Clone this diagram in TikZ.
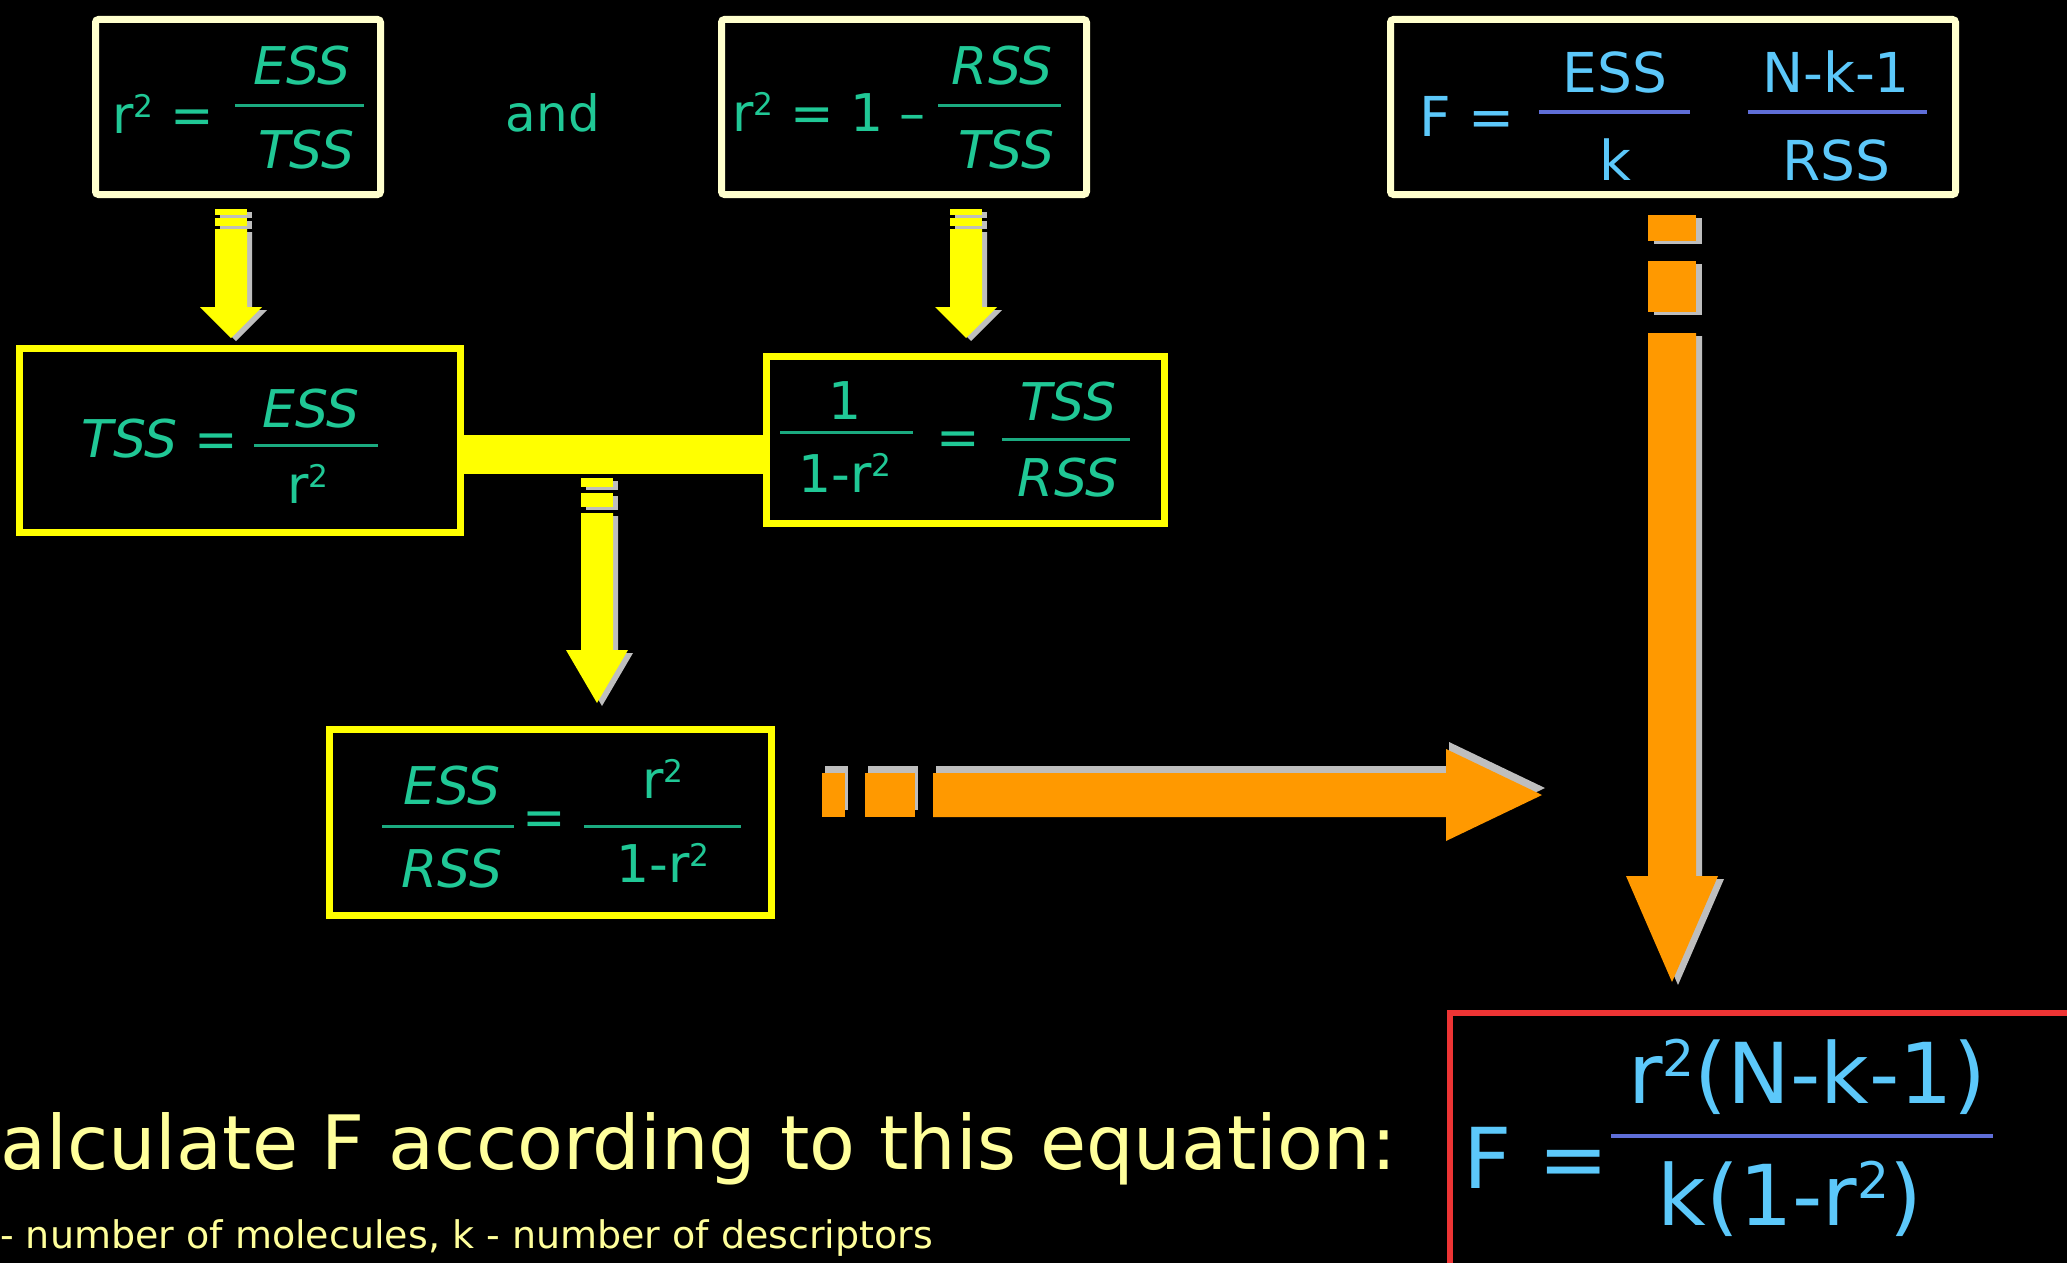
\documentclass[tikz,border=0pt]{standalone}
\usepackage{graphicx}
\usepackage{fontspec}
\setmainfont{DejaVu Sans}
\usetikzlibrary{positioning}

\definecolor{eqgreen}{RGB}{32,200,150}
\definecolor{eqblue}{RGB}{92,200,250}
\definecolor{barblue}{RGB}{95,110,215}
\definecolor{boxcream}{RGB}{255,255,205}
\definecolor{arrowyellow}{RGB}{255,255,0}
\definecolor{arroworange}{RGB}{255,153,0}
\definecolor{boxred}{RGB}{238,52,52}
\definecolor{textyellow}{RGB}{255,255,155}
\definecolor{shadowgray}{RGB}{190,190,190}

% squared exponent
\newcommand{\sq}{\raisebox{0.32em}{\scalebox{0.6}{2}}}

\tikzset{
  creambox/.style={draw=boxcream, line width=7pt, rounded corners=3pt, inner sep=0pt},
  yellowbox/.style={draw=arrowyellow, line width=7pt, inner sep=0pt},
  redbox/.style={draw=boxred, line width=6pt, inner sep=0pt},
  greeneq/.style={text=eqgreen, inner sep=0pt, font=\fontsize{52}{56}\selectfont},
  greenit/.style={text=eqgreen, inner sep=0pt, font=\fontsize{52}{56}\selectfont\itshape},
  blueeq/.style={text=eqblue, inner sep=0pt, font=\fontsize{55}{60}\selectfont},
  bigeq/.style={text=eqblue, inner sep=0pt, font=\fontsize{84}{90}\selectfont},
  greenbar/.style={draw=eqgreen!85!black, line width=3pt},
  bluebar/.style={draw=barblue, line width=4pt},
}

\begin{document}
\begin{tikzpicture}[x=1pt, y=-1pt]
    % Background
    \path[use as bounding box, fill=black] (0,0) rectangle (2067,1263);
    \clip (0,0) rectangle (2067,1263);

    % Top row boxes
    \node[creambox, minimum width=285pt, minimum height=175pt] (b1) at (238,107) {};
    \node[creambox, minimum width=365pt, minimum height=175pt] (b2) at (904,107) {};
    \node[creambox, minimum width=565pt, minimum height=175pt] (b3) at (1673,107) {};

    % r^2 = ESS/TSS
    \node[greeneq] (l1) at (163,114) {r\sq{} =};
    \node[greenit] (n1) at (302,66) {ESS};
    \node[greenit] (d1) at (306,150) {TSS};
    \draw[greenbar] (235,105) -- (364,105);

    \node[text=eqgreen, inner sep=0pt, font=\fontsize{50}{56}\selectfont] (and) at (553,113) {and};

    % r^2 = 1 - RSS/TSS
    \node[greeneq] (l2) at (829,112) {r\sq{} = 1 \textendash};
    \node[greenit] (n2) at (1002,66) {RSS};
    \node[greenit] (d2) at (1006,150) {TSS};
    \draw[greenbar] (938,105) -- (1061,105);

    % F = ESS/k * (N-k-1)/RSS
    \node[blueeq] (l3) at (1467,116) {F =};
    \node[blueeq] (n3a) at (1615,72) {ESS};
    \node[blueeq] (d3a) at (1615,160) {k};
    \draw[bluebar] (1539,112) -- (1690,112);
    \node[blueeq] (n3b) at (1836,72) {N-k-1};
    \node[blueeq] (d3b) at (1836,160) {RSS};
    \draw[bluebar] (1748,112) -- (1927,112);

    % Middle row boxes
    \node[yellowbox, minimum width=441pt, minimum height=184pt] (b4) at (240,440.5) {};
    \node[yellowbox, minimum width=398pt, minimum height=167pt] (b5) at (965.5,440) {};

    % TSS = ESS/r^2
    \node[greeneq] (l4) at (160,439) {\itshape TSS\upshape{} =};
    \node[greenit] (n4) at (311,409) {ESS};
    \node[greeneq] (d4) at (308,484) {r\sq};
    \draw[greenbar] (254,445) -- (378,445);

    % 1/(1-r^2) = TSS/RSS
    \node[greeneq] (n5a) at (845,401) {1};
    \node[greeneq] (d5a) at (845,473) {1-r\sq};
    \draw[greenbar] (780,432) -- (913,432);
    \node[greeneq] (e5) at (958,444) {=};
    \node[greenit] (n5b) at (1068,402) {TSS};
    \node[greenit] (d5b) at (1068,478) {RSS};
    \draw[greenbar] (1002,439) -- (1130,439);

    % Yellow link between the two middle boxes
    \fill[arrowyellow] (b4.east |- 0,435) rectangle (b5.west |- 0,474);

    % Bottom box: ESS/RSS = r^2/(1-r^2)
    \node[yellowbox, minimum width=442pt, minimum height=186pt] (b6) at (550.5,822.5) {};
    \node[greenit] (n6a) at (452,786) {ESS};
    \node[greenit] (d6a) at (452,869) {RSS};
    \draw[greenbar] (382,826) -- (514,826);
    \node[greeneq] (e6) at (544,824) {=};
    \node[greeneq] (n6b) at (663,779) {r\sq};
    \node[greeneq] (d6b) at (663,863) {1-r\sq};
    \draw[greenbar] (584,826) -- (741,826);

    % Yellow arrows (shadow first)
    \foreach \ax/\ya/\yb/\yc/\yd/\ye/\yf/\yt in
        {231/209/215/218/226/229/307/338, 966/209/215/218/226/229/307/338,
         597/478/487/493/507/513/650/703}{
      \foreach \dx/\dy/\col in {5/-3/shadowgray, 0/0/arrowyellow}{
        \begin{scope}[xshift=\dx, yshift=\dy]
          \fill[\col] ({\ax-16},\ya) rectangle ({\ax+16},\yb);
          \fill[\col] ({\ax-16},\yc) rectangle ({\ax+16},\yd);
          \fill[\col] ({\ax-16},\ye) -- ({\ax+16},\ye) -- ({\ax+16},\yf) -- ({\ax+31},\yf)
            -- (\ax,\yt) -- ({\ax-31},\yf) -- ({\ax-16},\yf) -- cycle;
        \end{scope}
      }
    }

    % Orange arrow, horizontal
    \foreach \dx/\dy/\col in {3/7/shadowgray, 0/0/arroworange}{
      \begin{scope}[xshift=\dx, yshift=\dy]
        \fill[\col] (822,773) rectangle (845,817);
        \fill[\col] (865,773) rectangle (915,817);
        \fill[\col] (933,773) -- (1446,773) -- (1446,749) -- (1542,795)
          -- (1446,841) -- (1446,817) -- (933,817) -- cycle;
      \end{scope}
    }

    % Orange arrow, vertical
    \foreach \dx/\dy/\col in {6/-3/shadowgray, 0/0/arroworange}{
      \begin{scope}[xshift=\dx, yshift=\dy]
        \fill[\col] (1648,215) rectangle (1696,241);
        \fill[\col] (1648,261) rectangle (1696,312);
        \fill[\col] (1648,333) -- (1696,333) -- (1696,876) -- (1718,876)
          -- (1672,982) -- (1626,876) -- (1648,876) -- cycle;
      \end{scope}
    }

    % Result box
    \node[redbox, minimum width=650pt, minimum height=287pt] (b7) at (1775,1156.5) {};
    \node[bigeq] (l7) at (1536,1158) {F =};
    \node[bigeq] (n7) at (1807,1077) {r\sq(N-k-1)};
    \node[bigeq] (d7) at (1790,1199) {k(1-r\sq)};
    \draw[bluebar] (1611,1136) -- (1993,1136);

    % Caption text
    \node[text=textyellow, inner sep=0pt, anchor=base west, font=\fontsize{75}{80}\selectfont]
        (calc) at (0,1169) {alculate F according to this equation:};
    \node[text=textyellow, inner sep=0pt, anchor=base west, font=\fontsize{38}{42}\selectfont]
        (note) at (0,1248) {- number of molecules, k - number of descriptors};
\end{tikzpicture}
\end{document}
